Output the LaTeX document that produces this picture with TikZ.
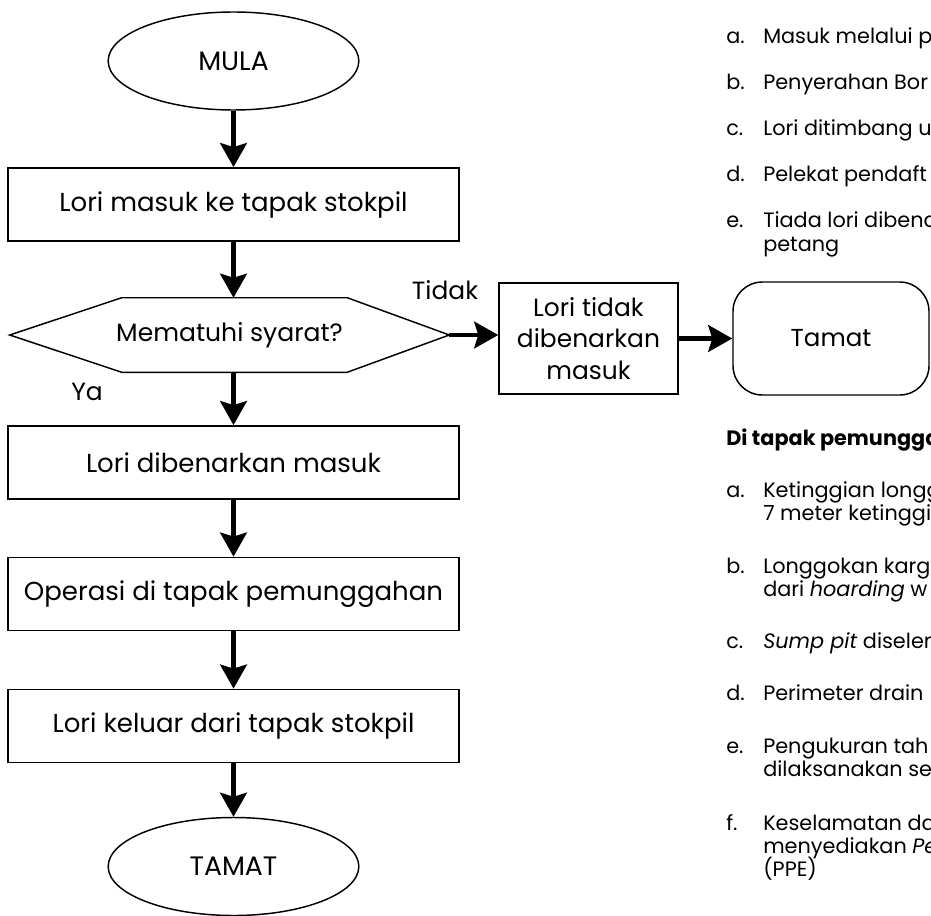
\documentclass[tikz,border=0pt]{standalone}
\usepackage{fontspec}
\setmainfont{Poppins}
\usetikzlibrary{arrows.meta,shapes.geometric}
\begin{document}
\begin{tikzpicture}[x=0.75pt,y=-0.75pt,
  nodeline/.style={draw=black,line width=1.1pt},
  term/.style={nodeline,ellipse,minimum width=188pt,minimum height=73.5pt,inner sep=0pt,font=\fontsize{20}{24}\selectfont},
  proc/.style={nodeline,rectangle,minimum width=338pt,minimum height=55pt,inner sep=0pt,font=\fontsize{19.5}{23}\selectfont},
  flow/.style={line width=3.2pt,-{Stealth[length=18pt,width=20pt,inset=3pt]}},
  lab/.style={font=\fontsize{18.7}{22}\selectfont,inner sep=0pt},
  li/.style={anchor=west,inner sep=0pt,text height=1.4ex,text depth=0.4ex,font=\fontsize{15.6}{19}\selectfont},
]
\useasboundingbox (0,0) rectangle (931,916);

% main column
\node[term] (mula) at (233.5,61) {MULA};
\node[proc] (b1) at (233.5,204.5) {Lori masuk ke tapak stokpil};
\node[minimum width=329.25pt,minimum height=55.5pt,inner sep=0pt,font=\fontsize{18.8}{22}\selectfont] (dec) at (229.5,335) {Mematuhi syarat?};
\draw[nodeline,line join=miter] (dec.west) -- ([xshift=84pt]dec.north west) -- ([xshift=-76.5pt]dec.north east) -- (dec.east) -- ([xshift=-76.5pt]dec.south east) -- ([xshift=84pt]dec.south west) -- cycle;
\node[proc] (b2) at (233.5,462.5) {Lori dibenarkan masuk};
\node[proc] (b3) at (233.5,594) {Operasi di tapak pemunggahan};
\node[proc] (b4) at (233.5,726) {Lori keluar dari tapak stokpil};
\node[term] (tamat) at (233.5,866.5) {TAMAT};

% side branch
\node[nodeline,rectangle,minimum width=134.25pt,minimum height=83.25pt,inner sep=0pt,align=center,font=\fontsize{18.7}{23.6}\selectfont] (lt) at (588.5,338.5) {Lori tidak\\dibenarkan\\masuk};
\node[nodeline,rectangle,rounded corners=22pt,minimum width=147pt,minimum height=84.75pt,inner sep=0pt,font=\fontsize{18.4}{22}\selectfont] (end) at (831,338.5) {Tamat};

\node[lab] (ya) at (87,392) {Ya};
\node[lab] (tidak) at (445,290) {Tidak};

% connectors
\draw[flow] (mula.south) -- (b1.north);
\draw[flow] (b1.south) -- (b1.south |- dec.north);
\draw[flow] (b1.south |- dec.south) -- (b2.north);
\draw[flow] (b2.south) -- (b3.north);
\draw[flow] (b3.south) -- (b4.north);
\draw[flow] (b4.south) -- (tamat.north);
\draw[flow] (dec.east) -- (dec.east -| lt.west);
\draw[flow] (lt.east) -- (lt.east -| end.west);

% right list top
\node[li] (ka) at (726,40) {a.};  \node[li] (ta) at (763,40) {Masuk melalui p};
\node[li] (kb) at (726,86) {b.};  \node[li] (tb) at (763,86) {Penyerahan Bor};
\node[li] (kc) at (726,132) {c.}; \node[li] (tc) at (763,132) {Lori ditimbang u};
\node[li] (kd) at (726,178) {d.}; \node[li] (td) at (763,178) {Pelekat pendaft};
\node[li] (ke) at (726,224) {e.}; \node[li] (te) at (763,224) {Tiada lori dibena};
\node[li] (te2) at (763,248) {petang};

% right list bottom
\node[li,font=\fontsize{15.6}{19}\selectfont\bfseries] (hd) at (726,442) {Di tapak pemungga};
\node[li] (pa) at (726,494) {a.}; \node[li] (qa) at (763,494) {Ketinggian longg};
\node[li] (qa2) at (763,517) {7 meter ketinggi};
\node[li] (pb) at (726,570) {b.}; \node[li] (qb) at (763,570) {Longgokan karg};
\node[li] (qb2) at (763,593) {dari \textit{hoarding} w};
\node[li] (pc) at (726,645) {c.}; \node[li] (qc) at (763,645) {\textit{Sump pit} diselen};
\node[li] (pd) at (726,697) {d.}; \node[li] (qd) at (763,697) {Perimeter drain};
\node[li] (pe) at (726,750) {e.}; \node[li] (qe) at (763,750) {Pengukuran tah};
\node[li] (qe2) at (763,773) {dilaksanakan se};
\node[li] (pf) at (726,827) {f.}; \node[li] (qf) at (763,827) {Keselamatan da};
\node[li] (qf2) at (763,850) {menyediakan \textit{Pe}};
\node[li] (qf3) at (763,873) {(PPE)};
\end{tikzpicture}
\end{document}
